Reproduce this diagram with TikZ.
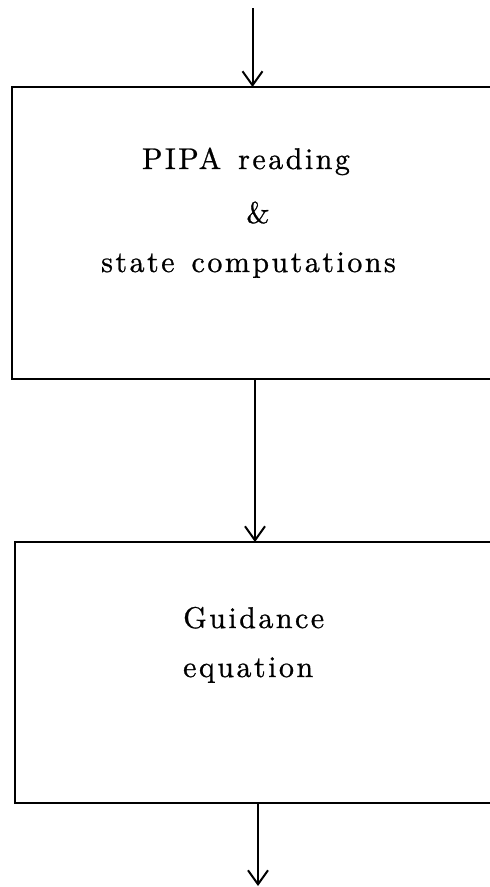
\documentclass[tikz,border=0pt]{standalone}
\usepackage{fontspec}
\newfontfamily\spacedrm{lmroman10-regular.otf}[LetterSpace=8.3,FakeBold=0.8]
\usetikzlibrary{arrows.meta}
\begin{document}
\begin{tikzpicture}[x=1bp,y=-1bp,
  box/.style={draw,line width=2bp,rectangle,inner sep=0pt,outer sep=0pt,anchor=north west},
  lbl/.style={anchor=base,inner sep=0pt,font=\spacedrm\fontsize{30bp}{36bp}\selectfont},
  flow/.style={line width=2bp,-{Straight Barb[length=14bp,width=20bp,line width=2bp]}}]
\useasboundingbox (0,0) rectangle (490,887);
\node[box,minimum width=518bp,minimum height=292bp] (b1) at (12,87) {};
\node[box,minimum width=515bp,minimum height=261bp] (b2) at (15,542) {};
\node[lbl] (t1) at (246,169) {PIPA\hspace{17bp}reading};
\node[lbl] (t2) at (258,223) {\&};
\node[lbl] (t3) at (248.5,272) {state\hspace{17bp}computations};
\node[lbl,anchor=base west] (t4) at (183,628) {Guidance};
\node[lbl,anchor=base west] (t5) at (183,677) {equation};
\coordinate (s1) at (252.5,8);
\coordinate (s2) at (255,0);
\coordinate (s3) at (258,0);
\coordinate (e3) at (258,886);
\draw[flow] (s1) -- (s1 |- b1.north);
\draw[flow] (s2 |- b1.south) -- (s2 |- b2.north);
\draw[flow] (s3 |- b2.south) -- (e3);
\end{tikzpicture}
\end{document}
